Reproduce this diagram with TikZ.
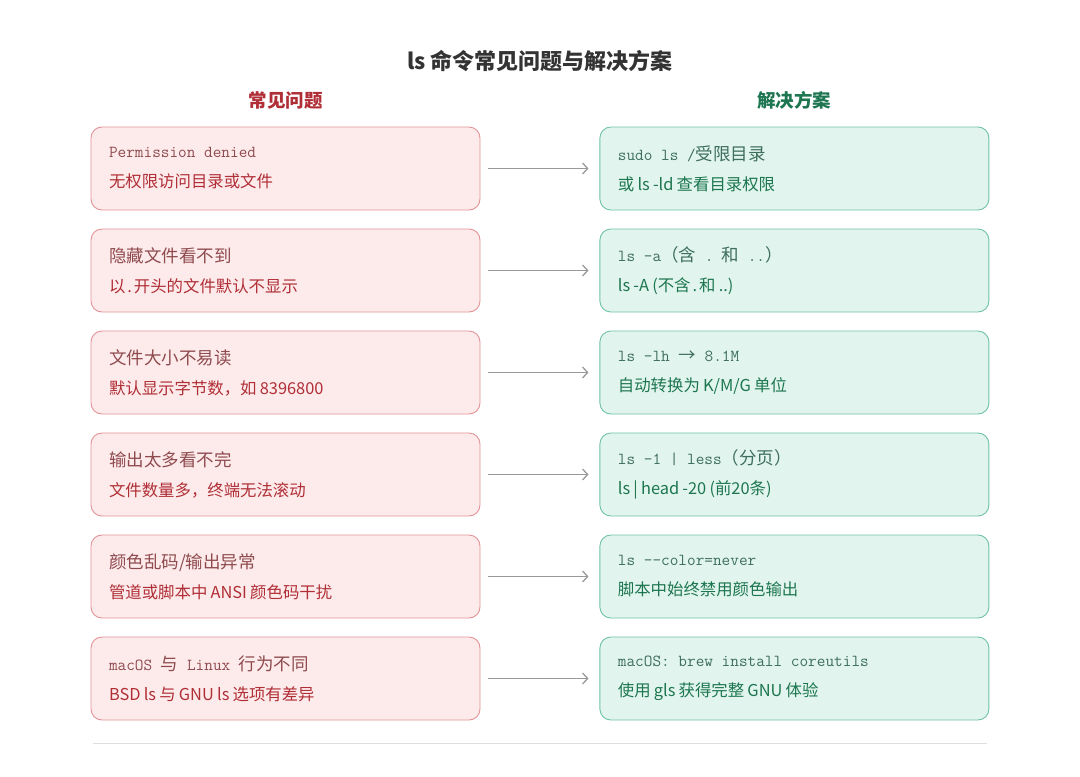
\documentclass[tikz,border=0pt]{standalone}
\usepackage{fontspec}
\setmainfont{Noto Sans CJK SC}
\newfontfamily\zhfont{Noto Sans CJK SC}
\usepackage{tikz}
\usetikzlibrary{positioning}
\usetikzlibrary{arrows.meta}
\tikzset{>={Straight Barb[length=5pt,width=11pt,line width=1.3pt]}}

\definecolor{probfill}{HTML}{FDEBEB}
\definecolor{probline}{HTML}{E39396}
\definecolor{probtext}{HTML}{B02E36}
\definecolor{probsub}{HTML}{8F4A4E}
\definecolor{solfill}{HTML}{E1F5EE}
\definecolor{solline}{HTML}{6FC2A3}
\definecolor{soltext}{HTML}{1D7650}
\definecolor{solsub}{HTML}{3E6E5C}
\definecolor{titlegray}{HTML}{333333}

% first line of each box: mono, with Chinese set in the CJK face
\newcommand{\zh}[1]{{\zhfont\fontsize{17.5}{30}\selectfont #1}}
\newcommand{\cmdline}[1]{{\ttfamily\fontsize{16.8}{30}\selectfont\spaceskip=0pt\relax #1}}

\tikzset{
	prob/.style={draw=probline, fill=probfill, line width=0.9pt, rounded corners=11pt,
		minimum height=83pt, text width=353pt, inner xsep=18pt, inner ysep=0pt,
		align=left, text=probtext, font=\fontsize{16.4}{30}\selectfont,
		execute at begin node={\spaceskip=3.2pt\relax}},
	sol/.style={prob, draw=solline, fill=solfill, text=soltext},
	head/.style={inner sep=0pt, font=\bfseries\fontsize{18.5}{20}\selectfont},
}

\begin{document}
\begin{tikzpicture}[x=1pt, y=-1pt, node distance=18.1pt]
	\useasboundingbox (0,0) rectangle (1080,777);
	\node (TITLE) [font=\bfseries\fontsize{22}{24}\selectfont, text=titlegray] at (540,61) {ls 命令常见问题与解决方案};

	\node (P1) [prob] at (285.5,168.5) {{\color{probsub}\cmdline{Permission denied}}\\无权限访问目录或文件};
	\node (P2) [prob, below=of P1] {{\color{probsub}\zh{隐藏文件看不到}}\\以\hspace{2pt}.\hspace{2pt}开头的文件默认不显示};
	\node (P3) [prob, below=of P2] {{\color{probsub}\zh{文件大小不易读}}\\默认显示字节数，如 8396800};
	\node (P4) [prob, below=of P3] {{\color{probsub}\zh{输出太多看不完}}\\文件数量多，终端无法滚动};
	\node (P5) [prob, below=of P4] {{\color{probsub}\zh{颜色乱码/输出异常}}\\管道或脚本中 ANSI 颜色码干扰};
	\node (P6) [prob, below=of P5] {{\color{probsub}\cmdline{macOS }\zh{与}\cmdline{ Linux }\zh{行为不同}}\\BSD ls 与 GNU ls 选项有差异};

	\node (S1) [sol, right=119pt of P1] {{\color{solsub}\cmdline{sudo ls /}\zh{受限目录}}\\或 ls -ld 查看目录权限};
	\node (S2) [sol, right=119pt of P2] {{\color{solsub}\cmdline{ls -a}\zh{（含}\cmdline{ . }\zh{和}\cmdline{ ..}\zh{）}}\\ls -A (不含\hspace{2pt}.\hspace{2pt}和 ..)};
	\node (S3) [sol, right=119pt of P3] {{\color{solsub}\cmdline{ls -lh }\zh{→}\cmdline{ 8.1M}}\\自动转换为 K/M/G 单位};
	\node (S4) [sol, right=119pt of P4] {{\color{solsub}\cmdline{ls -1 | less}\zh{（分页）}}\\ls | head -20 (前20条)};
	\node (S5) [sol, right=119pt of P5] {{\color{solsub}\cmdline{ls --color=never}}\\脚本中始终禁用颜色输出};
	\node (S6) [sol, right=119pt of P6] {{\color{solsub}\cmdline{macOS: brew install coreutils}}\\使用 gls 获得完整 GNU 体验};

	\node (HP) [head, text=probtext, above=17pt of P1] {常见问题};
	\node (HS) [head, text=soltext, above=17pt of S1] {解决方案};

	\path [draw=gray!80, line width=1.3pt, ->, shorten <=8pt, shorten >=11pt] (P1) -- (S1);
	\path [draw=gray!80, line width=1.3pt, ->, shorten <=8pt, shorten >=11pt] (P2) -- (S2);
	\path [draw=gray!80, line width=1.3pt, ->, shorten <=8pt, shorten >=11pt] (P3) -- (S3);
	\path [draw=gray!80, line width=1.3pt, ->, shorten <=8pt, shorten >=11pt] (P4) -- (S4);
	\path [draw=gray!80, line width=1.3pt, ->, shorten <=8pt, shorten >=11pt] (P5) -- (S5);
	\path [draw=gray!80, line width=1.3pt, ->, shorten <=8pt, shorten >=11pt] (P6) -- (S6);

	\coordinate (RL) at (93,743);
	\coordinate (RR) at (987,743);
	\path [draw=gray!25, line width=1pt] (RL) -- (RR);
\end{tikzpicture}
\end{document}
